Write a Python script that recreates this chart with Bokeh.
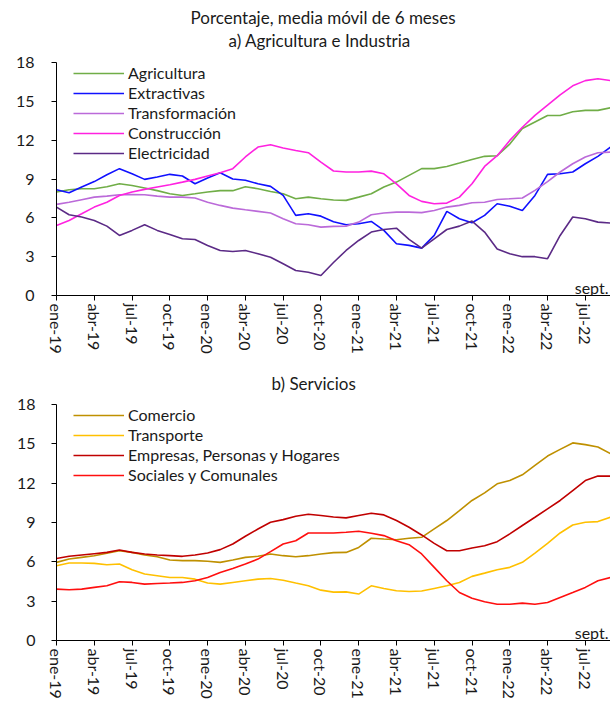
from bokeh.plotting import figure
from bokeh.models import Range1d, FixedTicker, Legend, LegendItem, Label, Title
from bokeh.layouts import column
from bokeh.embed import file_html
from bokeh.resources import INLINE

FONT = "Lato"

# Monthly periods: ene-19 ... sept-22 (45 months)
meses = ["ene-19", "feb-19", "mar-19", "abr-19", "may-19", "jun-19", "jul-19", "ago-19", "sept-19",
         "oct-19", "nov-19", "dic-19", "ene-20", "feb-20", "mar-20", "abr-20", "may-20", "jun-20",
         "jul-20", "ago-20", "sept-20", "oct-20", "nov-20", "dic-20", "ene-21", "feb-21", "mar-21",
         "abr-21", "may-21", "jun-21", "jul-21", "ago-21", "sept-21", "oct-21", "nov-21", "dic-21",
         "ene-22", "feb-22", "mar-22", "abr-22", "may-22", "jun-22", "jul-22", "ago-22", "sept-22"]

tick_labels = ["ene-19", "abr-19", "jul-19", "oct-19", "ene-20", "abr-20", "jul-20", "oct-20",
               "ene-21", "abr-21", "jul-21", "oct-21", "ene-22", "abr-22", "jul-22"]

# Panel a) Agricultura e Industria
agricultura = [8.0, 8.17, 8.25, 8.25, 8.4, 8.63, 8.5, 8.3, 8.1, 7.86, 7.73, 7.86, 8.0, 8.1, 8.1,
               8.4, 8.25, 8.04, 7.86, 7.47, 7.6, 7.47, 7.38, 7.35, 7.6, 7.86, 8.38, 8.76, 9.28,
               9.8, 9.8, 9.97, 10.23, 10.5, 10.75, 10.8, 11.7, 12.9, 13.4, 13.9, 13.9, 14.2, 14.3,
               14.3, 14.5]
extractivas = [8.17, 7.94, 8.38, 8.8, 9.33, 9.8, 9.4, 8.97, 9.15, 9.36, 9.23, 8.63, 9.07, 9.48,
               9.0, 8.9, 8.63, 8.43, 7.73, 6.19, 6.31, 6.13, 5.7, 5.46, 5.54, 5.72, 5.03, 4.0,
               3.87, 3.66, 4.64, 6.5, 5.93, 5.62, 6.19, 7.09, 6.9, 6.57, 7.73, 9.36, 9.4, 9.54,
               10.18, 10.75, 11.47]
transformacion = [7.04, 7.2, 7.4, 7.6, 7.68, 7.78, 7.8, 7.78, 7.68, 7.6, 7.6, 7.53, 7.2, 6.96,
                  6.75, 6.62, 6.5, 6.37, 5.93, 5.54, 5.46, 5.28, 5.34, 5.36, 5.67, 6.24, 6.37,
                  6.44, 6.44, 6.4, 6.57, 6.83, 6.96, 7.16, 7.2, 7.42, 7.47, 7.53, 8.12, 8.8, 9.54,
                  10.18, 10.7, 11.03, 11.08]
construccion = [5.41, 5.8, 6.31, 6.83, 7.2, 7.73, 8.0, 8.2, 8.38, 8.56, 8.76, 8.97, 9.23, 9.48,
                9.8, 10.7, 11.47, 11.65, 11.4, 11.2, 11.03, 10.3, 9.62, 9.54, 9.54, 9.61, 9.4,
                8.63, 7.73, 7.27, 7.09, 7.14, 7.6, 8.63, 9.97, 10.8, 11.98, 13.0, 13.92, 14.7,
                15.5, 16.2, 16.6, 16.75, 16.6]
electricidad = [6.83, 6.24, 6.06, 5.8, 5.36, 4.64, 5.03, 5.46, 5.03, 4.72, 4.38, 4.33, 3.87,
                3.48, 3.4, 3.48, 3.22, 2.96, 2.45, 1.93, 1.8, 1.55, 2.55, 3.48, 4.25, 4.9, 5.1,
                5.2, 4.33, 3.66, 4.38, 5.1, 5.36, 5.75, 4.9, 3.6, 3.22, 3.0, 3.0, 2.84, 4.64,
                6.06, 5.93, 5.67, 5.6]

# Panel b) Servicios
comercio = [5.96, 6.21, 6.34, 6.47, 6.65, 6.85, 6.72, 6.52, 6.39, 6.14, 6.09, 6.09, 6.04, 5.96,
            6.14, 6.34, 6.42, 6.6, 6.47, 6.39, 6.47, 6.6, 6.7, 6.72, 7.1, 7.8, 7.74, 7.69, 7.8,
            7.87, 8.51, 9.15, 9.91, 10.68, 11.26, 11.95, 12.2, 12.64, 13.36, 14.07, 14.58,
            15.07, 14.94, 14.76, 14.25]
transporte = [5.7, 5.91, 5.91, 5.88, 5.78, 5.83, 5.4, 5.07, 4.94, 4.81, 4.81, 4.68, 4.38, 4.3,
              4.43, 4.56, 4.68, 4.73, 4.6, 4.38, 4.17, 3.84, 3.69, 3.71, 3.54, 4.17, 3.97, 3.79,
              3.74, 3.77, 3.97, 4.17, 4.43, 4.89, 5.14, 5.4, 5.58, 5.96, 6.67, 7.41, 8.2, 8.81,
              9.02, 9.07, 9.4]
empresas = [6.26, 6.42, 6.52, 6.62, 6.72, 6.9, 6.72, 6.6, 6.52, 6.47, 6.42, 6.52, 6.67, 6.93,
            7.36, 7.95, 8.5, 9.02, 9.22, 9.48, 9.63, 9.53, 9.42, 9.35, 9.53, 9.71, 9.58, 9.15,
            8.64, 8.05, 7.41, 6.85, 6.85, 7.06, 7.23, 7.54, 8.13, 8.77, 9.4, 10.04, 10.68,
            11.44, 12.2, 12.54, 12.54]
sociales = [3.92, 3.87, 3.92, 4.05, 4.17, 4.48, 4.43, 4.3, 4.35, 4.38, 4.43, 4.56, 4.81, 5.19,
            5.5, 5.83, 6.21, 6.78, 7.36, 7.61, 8.2, 8.2, 8.2, 8.26, 8.33, 8.18, 8.0, 7.61, 7.31,
            6.6, 5.58, 4.56, 3.66, 3.23, 2.95, 2.77, 2.77, 2.85, 2.77, 2.9, 3.28, 3.66, 4.05,
            4.56, 4.81]

series_a = [("Agricultura", agricultura, "#70AD47"),
            ("Extractivas", extractivas, "#1010FF"),
            ("Transformación", transformacion, "#BB6AD9"),
            ("Construcción", construccion, "#FF22E0"),
            ("Electricidad", electricidad, "#5B2A86")]
series_b = [("Comercio", comercio, "#BF9000"),
            ("Transporte", transporte, "#FFC000"),
            ("Empresas, Personas y Hogares", empresas, "#C00000"),
            ("Sociales y Comunales", sociales, "#FF0F0F")]

xs = list(range(len(meses)))
tick_pos = [meses.index(t) for t in tick_labels]


def make_panel(height, mb_left, mb_top, mb_bottom, series, leg_loc, leg_h, y_standoff):
    p = figure(width=610, height=height, x_range=Range1d(0, len(meses) - 1), y_range=Range1d(0, 18),
               output_backend="svg", toolbar_location=None,
               min_border_left=mb_left, min_border_right=0,
               min_border_top=mb_top, min_border_bottom=mb_bottom)
    p.outline_line_color = None
    p.grid.visible = False
    p.background_fill_color = "white"
    p.border_fill_color = "white"

    p.xaxis.ticker = FixedTicker(ticks=tick_pos)
    p.xaxis.major_label_overrides = {i: lab for i, lab in zip(tick_pos, tick_labels)}
    p.xaxis.major_label_orientation = "vertical"
    p.yaxis.ticker = FixedTicker(ticks=[0, 3, 6, 9, 12, 15, 18])
    for ax in (p.xaxis, p.yaxis):
        ax.axis_line_color = "black"
        ax.axis_line_width = 1
        ax.major_tick_line_color = "black"
        ax.major_tick_out = 5
        ax.major_tick_in = 0
        ax.minor_tick_line_color = None
        ax.major_label_text_font = FONT
        ax.major_label_text_font_size = "16px"
        ax.major_label_text_color = "#1a1a1a"
    p.xaxis.major_label_standoff = 3
    p.yaxis.major_label_standoff = y_standoff

    items = []
    for name, vals, col in series:
        r = p.line(xs, vals, line_color=col, line_width=1.6)
        items.append(LegendItem(label=name, renderers=[r]))
    leg = Legend(items=items, location=leg_loc, glyph_width=51, glyph_height=leg_h,
                 label_height=leg_h, label_standoff=4, spacing=0, padding=0, margin=0,
                 border_line_color=None, background_fill_alpha=0,
                 label_text_font=FONT, label_text_font_size="16px",
                 label_text_color="#1a1a1a")
    p.add_layout(leg)

    p.add_layout(Label(x=len(meses) - 1, y=0.6, x_offset=-2, y_offset=0, text="sept.",
                       text_align="right", text_baseline="alphabetic",
                       text_font=FONT, text_font_size="16px", text_color="#1a1a1a"))
    return p


def add_title(p, text, offset, standoff):
    p.add_layout(Title(text=text, align="left", offset=offset, standoff=standoff,
                       text_font=FONT, text_font_size="17px", text_font_style="normal",
                       text_color="#1a1a1a"), "above")


pa = make_panel(360, 52, 62, 65, series_a, (17, 132.5), 20, 17)
add_title(pa, "a) Agricultura e Industria", 172, 23)
add_title(pa, "Porcentaje, media móvil de 6 meses", 134, -22)

pb = make_panel(344, 56, 44, 64, series_b, (17, 155.5), 20, 16)
add_title(pb, "b) Servicios", 215, 21)

layout = column(pa, pb, spacing=0)
open("out.html", "w").write(file_html(layout, INLINE))
